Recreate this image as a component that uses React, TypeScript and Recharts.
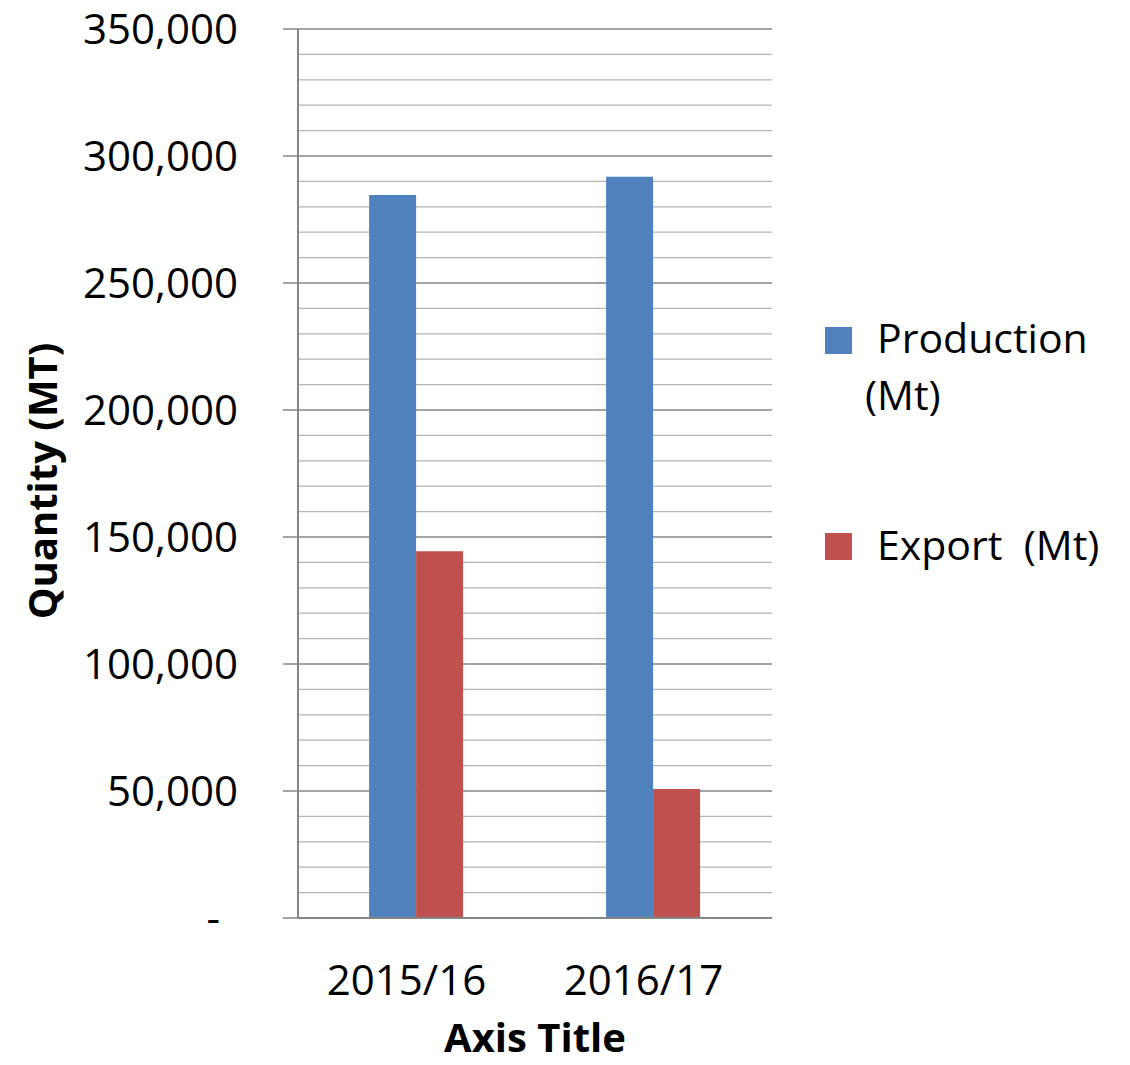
import { Bar, BarChart, CartesianGrid, XAxis, YAxis } from "recharts";

const categories = ["2015/16", "2016/17"];
const production = [284600, 291800];
const exportQty = [144400, 50800];
const majorTicks = [0, 50000, 100000, 150000, 200000, 250000, 300000, 350000];
const minorTicks = [
  10000, 20000, 30000, 40000, 60000, 70000, 80000, 90000, 110000, 120000, 130000, 140000,
  160000, 170000, 180000, 190000, 210000, 220000, 230000, 240000, 260000, 270000, 280000,
  290000, 310000, 320000, 330000, 340000,
];

const BLUE = "#4f81bd";
const RED = "#c0504d";
const AXIS = "#868686";
const FONT = "'Open Sans', sans-serif";

const data = categories.map((c, i) => ({
  name: c,
  production: production[i],
  export: exportQty[i],
}));

function YTick(props: any) {
  const { x, y, payload } = props;
  const v = Number(payload.value);
  const label = v === 0 ? "-" : v.toLocaleString("en-US");
  return (
    <text x={v === 0 ? x - 18 : x} y={y} dy="0.355em" textAnchor="end" fontSize={42} fill="#000" fontFamily={FONT}>
      {label}
    </text>
  );
}

function XTick(props: any) {
  const { x, y, payload } = props;
  return (
    <text x={x - 10} y={y} dy="0.71em" textAnchor="middle" fontSize={42} fill="#000" fontFamily={FONT}>
      {payload.value}
    </text>
  );
}

function XTitle(props: any) {
  const { viewBox } = props;
  const cx = viewBox.x + viewBox.width / 2;
  return (
    <text x={cx} y={1052} textAnchor="middle" fontSize={40} fontWeight="bold" fill="#000" fontFamily={FONT}>
      Axis Title
    </text>
  );
}

function YTitle() {
  return (
    <text
      x={0}
      y={0}
      transform="translate(57, 481) rotate(-90)"
      textAnchor="middle"
      fontSize={40}
      fontWeight="bold"
      fill="#000"
      fontFamily={FONT}
    >
      Quantity (MT)
    </text>
  );
}

// legend drawn as an overlay so it doesn't eat into the plot area
function LegendBox() {
  const txt = { fontSize: 41, fill: "#000", fontFamily: FONT, whiteSpace: "pre" as const };
  return (
    <svg width={330} height={300} style={{ position: "absolute", left: 800, top: 300 }}>
      <rect x={25} y={27} width={27} height={27} fill={BLUE} />
      <text x={77} y={53} style={txt}>Production</text>
      <text x={65} y={110} style={txt}>(Mt)</text>
      <rect x={25} y={233} width={27} height={27} fill={RED} />
      <text x={77} y={260} style={txt}>Export  (Mt)</text>
    </svg>
  );
}

export default function App() {
  return (
    <div style={{ position: "absolute", left: 0, top: 0, width: 1130, height: 1065, background: "#fff", fontFamily: FONT }}>
      <BarChart
        width={1130}
        height={1065}
        data={data}
        margin={{ top: 29, right: 358, bottom: 0, left: 0 }}
        barCategoryGap="30%"
        barGap={0}
      >
        <CartesianGrid horizontalValues={minorTicks} vertical={false} stroke="#b4b4b4" strokeWidth={1.3} />
        <CartesianGrid horizontalValues={majorTicks} vertical={false} stroke={AXIS} strokeWidth={1.5} />
        <XAxis
          dataKey="name"
          height={147}
          axisLine={{ stroke: AXIS, strokeWidth: 2 }}
          tickLine={false}
          tickSize={0}
          tickMargin={47}
          tick={<XTick />}
          label={<XTitle />}
        />
        <YAxis
          width={298}
          domain={[0, 350000]}
          ticks={majorTicks}
          interval={0}
          tickSize={15}
          tickMargin={45}
          axisLine={{ stroke: AXIS, strokeWidth: 2 }}
          tickLine={{ stroke: AXIS, strokeWidth: 1.5 }}
          tick={<YTick />}
          label={<YTitle />}
        />
        <Bar dataKey="production" name="Production (Mt)" fill={BLUE} isAnimationActive={false} />
        <Bar dataKey="export" name="Export  (Mt)" fill={RED} isAnimationActive={false} />
      </BarChart>
      <LegendBox />
    </div>
  );
}
